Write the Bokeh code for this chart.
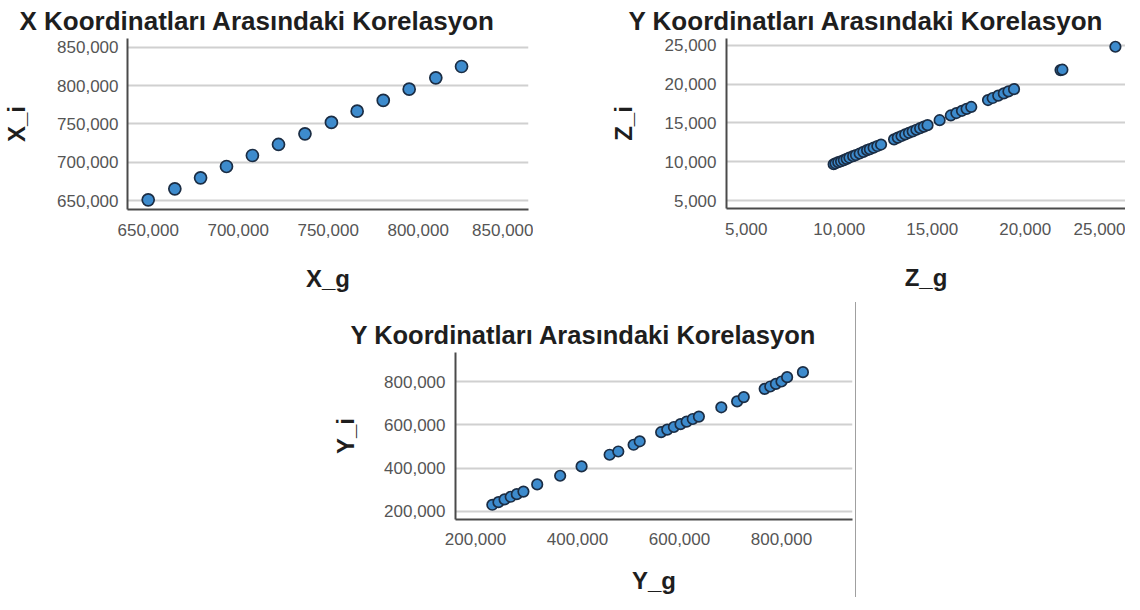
from bokeh.plotting import figure
from bokeh.models import FixedTicker, NumeralTickFormatter, Range1d, Div, Spacer
from bokeh.layouts import row, column
from bokeh.embed import file_html
from bokeh.resources import INLINE

# ---------------- data ----------------
x_g = [650000, 664800, 679100, 693500, 707900, 722400, 737100, 751800, 766100, 780600, 795000, 809800, 824100]
x_i = [650900, 665300, 679600, 694400, 708700, 723100, 737000, 751800, 766500, 780500, 795200, 810000, 824800]

z_g = [9700, 9800, 9950, 10100, 10250, 10400, 10550, 10750, 10900, 11100, 11300, 11500, 11650, 11850, 12050, 12250,
       12950, 13150, 13350, 13550, 13750, 13950, 14150, 14350, 14550, 14750,
       15400,
       16000, 16300, 16600, 16850, 17100,
       18000, 18250, 18550, 18850, 19100, 19400,
       21900, 22000,
       24850]
z_i = [9700, 9820, 9960, 10080, 10230, 10390, 10560, 10740, 10880, 11080, 11290, 11510, 11640, 11830, 12040, 12230,
       12900, 13120, 13330, 13530, 13740, 13930, 14130, 14330, 14540, 14720,
       15360,
       15970, 16280, 16570, 16820, 17060,
       17950, 18210, 18520, 18800, 19060, 19350,
       21800, 21850,
       24800]

y_g = [233000, 245000, 257000, 269000, 281000, 294000, 321000, 366000, 408000, 463000, 480000, 510000, 522000,
       564000, 576000, 589000, 602000, 614000, 626000, 638000, 682000, 713000, 726000,
       767000, 778000, 789000, 800000, 811000, 842000]
y_i = [231000, 243000, 256000, 268000, 280000, 292000, 325000, 365000, 408000, 462000, 477000, 508000, 524000,
       566000, 578000, 590000, 603000, 615000, 627000, 638000, 681000, 708000, 728000,
       766000, 777000, 789000, 800000, 820000, 843000]

ticks_x1 = [650000, 700000, 750000, 800000, 850000]
ticks_y1 = [650000, 700000, 750000, 800000, 850000]
ticks_z = [5000, 10000, 15000, 20000, 25000]
ticks_y3 = [200000, 400000, 600000, 800000]

titles = ["X Koordinatları Arasındaki Korelasyon",
          "Y Koordinatları Arasındaki Korelasyon",
          "Y Koordinatları Arasındaki Korelasyon"]

FONT = "Liberation Sans"
FILL = "#3d8bcd"
EDGE = "#1b2d44"


def make(title, xlab, ylab, xs, ys, xr, yr, xt, yt, fw, fh, bl, bt, bb, br,
         toff, tstand, tsize, msize, y_lstand, y_astand, x_lstand, x_astand):
    p = figure(frame_width=fw, frame_height=fh,
               x_range=Range1d(*xr), y_range=Range1d(*yr),
               min_border_left=bl, min_border_top=bt, min_border_bottom=bb, min_border_right=br,
               output_backend="svg", toolbar_location=None, title=title)
    p.title.align = "left"
    p.title.offset = toff
    p.title.standoff = tstand
    p.title.text_font = FONT
    p.title.text_font_size = tsize
    p.title.text_font_style = "bold"
    p.title.text_color = "#1e1e1e"
    p.outline_line_color = None
    p.background_fill_color = "white"
    p.border_fill_color = "white"

    p.xaxis.ticker = FixedTicker(ticks=xt)
    p.yaxis.ticker = FixedTicker(ticks=yt)
    for ax in (p.xaxis[0], p.yaxis[0]):
        ax.formatter = NumeralTickFormatter(format="0,0")
        ax.axis_line_color = "#4a4a4a"
        ax.axis_line_width = 2
        ax.major_tick_line_color = None
        ax.minor_tick_line_color = None
        ax.major_tick_out = 0
        ax.major_tick_in = 0
        ax.minor_tick_out = 0
        ax.major_label_text_font = FONT
        ax.major_label_text_font_size = "17px"
        ax.major_label_text_color = "#555555"
        ax.axis_label_text_font = FONT
        ax.axis_label_text_font_size = "24px"
        ax.axis_label_text_font_style = "bold"
        ax.axis_label_text_color = "#1e1e1e"
    p.xaxis.axis_label = xlab
    p.yaxis.axis_label = ylab
    p.xaxis.major_label_standoff = x_lstand
    p.yaxis.major_label_standoff = y_lstand
    p.xaxis.axis_label_standoff = x_astand
    p.yaxis.axis_label_standoff = y_astand

    p.xgrid.visible = False
    p.ygrid.grid_line_color = "#d0d0d0"
    p.ygrid.grid_line_width = 2

    p.scatter(xs, ys, size=msize, fill_color=FILL, line_color=EDGE, line_width=1.7)
    return p


p1 = make(titles[0], "X_g", "X_i", x_g, x_i,
          (638500, 861300), (638300, 861300), ticks_x1, ticks_y1,
          401, 171, 126, 35, 93, 5, -108, 6, "26px", 12, 9, 24, 14, 26)
p2 = make(titles[1], "Z_g", "Z_i", z_g, z_i,
          (3941, 25393), (4010, 25860), ticks_z, ticks_z,
          399, 170, 193, 34, 95, 0, -98, 5, "26px", 10.5, 10, 25, 14, 26)
p3 = make(titles[2], "Y_g", "Y_i", y_g, y_i,
          (160800, 939200), (163070, 933860), ticks_y3, ticks_y3,
          397, 167, 130, 50, 78, 3, -105, 7, "25.5px", 10.5, 10, 22, 13, 19)

vline = Div(text="", width=1, height=295, margin=(0, 0, 0, 0),
            styles={"background-color": "#a0a0a0"})

layout = column(row(p1, p2), row(Spacer(width=325, height=295), p3, vline))

open("out.html", "w").write(file_html(layout, INLINE))
